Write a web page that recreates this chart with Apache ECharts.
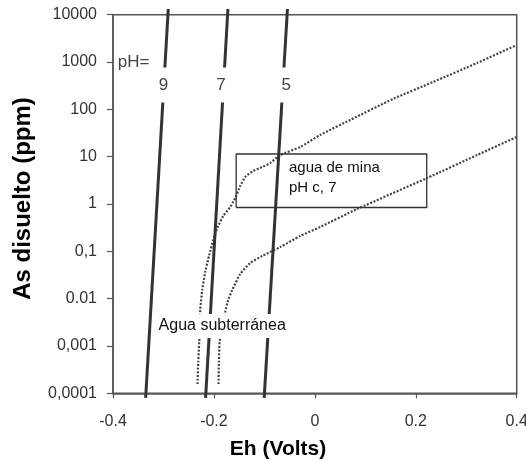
<!DOCTYPE html>
<html><head><meta charset="utf-8">
<script src="https://cdn.jsdelivr.net/npm/echarts/dist/echarts.min.js"></script>
<style>html,body{margin:0;padding:0;background:#fff}#c{width:526px;height:461px}</style>
</head><body><div id="c"></div>
<script>
// ---- data ----
const yTickLabels = ['0,0001', '0,001', '0.01', '0,1', '1', '10', '100', '1000', '10000'];
const xMin = -0.4, xMax = 0.4, xStep = 0.2;

// pH lines (Eh, As ppm) bottom -> top
const ph9 = [[-0.3353, 8e-5], [-0.2905, 13200]];
const ph7 = [[-0.2165, 8e-5], [-0.1723, 13200]];
const ph5 = [[-0.1004, 8e-5], [-0.0543, 13200]];

// dotted curves
const curveMina = [[-0.2325,1.57e-4],[-0.2311,4.58e-4],[-0.2291,1.27e-3],[-0.2271,5.75e-3],[-0.2232,0.0152],
  [-0.2172,0.0366],[-0.2093,0.0836],[-0.2014,0.173],[-0.1935,0.311],[-0.1816,0.557],[-0.1677,0.865],
  [-0.1578,1.34],[-0.1479,2.40],[-0.1380,3.72],[-0.1222,4.98],[-0.1044,6.05],[-0.0885,7.35],[-0.0687,10.8],
  [-0.0291,16.0],[0.0105,28.7],[0.0699,59.6],[0.155,166],[0.2342,378],[0.3213,953],[0.4,2290]];
const curveSubt = [[-0.1909,1.57e-4],[-0.1901,4.58e-4],[-0.1885,1.27e-3],[-0.1776,5.22e-3],[-0.1717,9.37e-3],
  [-0.1638,0.0152],[-0.1479,0.0332],[-0.1281,0.0566],[-0.1044,0.0796],[-0.0687,0.123],[-0.0291,0.211],
  [0.0105,0.327],[0.0838,0.783],[0.2224,3.54],[0.3213,10.8],[0.4,26.1]];

// annotation box (Eh range, ppm range)
const boxX = [-0.1559, 0.2217];
const boxY = [0.843, 11.4];

// text annotations [Eh, ppm, text]
const phNumLabels = [[-0.3002, 327, '9'], [-0.1862, 327, '7'], [-0.0569, 327, '5']];
const phPrefix = [[-0.3915, 1000, 'pH=']];
const minaText = [[-0.0523, 3.54, 'agua de mina\npH c, 7']];
const subtText = [[-0.1836, 2.64e-3, 'Agua subterránea']];

// ---- chart ----
const FONT = '"Liberation Sans", Arial, sans-serif';
const chart = echarts.init(document.getElementById('c'), null, {renderer: 'canvas'});
const axisCol = '#555';
const boxData = [[boxX[0], boxY[0]], [boxX[1], boxY[0]], [boxX[1], boxY[1]], [boxX[0], boxY[1]], [boxX[0], boxY[0]]];

function phSeries(d) {
  return {type: 'line', data: d, showSymbol: false, clip: false, silent: true, z: 3,
    lineStyle: {color: '#333', width: 3}};
}
function dotSeries(d) {
  return {type: 'line', data: d, showSymbol: false, smooth: 0.2, silent: true, z: 2,
    lineStyle: {color: '#444', width: 2.2, type: [2, 1.6]}};
}
function textSeries(arr, label, z) {
  return {type: 'scatter', silent: true, z: z || 10, symbolSize: 1,
    itemStyle: {color: 'rgba(0,0,0,0)', opacity: 1},
    data: arr.map(a => ({value: [a[0], a[1]], name: a[2]})),
    label: Object.assign({show: true, formatter: '{b}', fontFamily: FONT, opacity: 1}, label)};
}

chart.setOption({
  animation: false,
  backgroundColor: '#fff',
  grid: {left: 113, right: 9.3, top: 14.7, bottom: 67.7, containLabel: false, outerBoundsMode: 'none',
    show: true, borderColor: axisCol, borderWidth: 1.5, backgroundColor: 'transparent'},
  xAxis: {type: 'value', min: xMin, max: xMax, interval: xStep,
    axisLine: {show: true, onZero: false, lineStyle: {color: axisCol, width: 1.5}},
    axisTick: {show: true, inside: false, length: 5, lineStyle: {color: axisCol, width: 1.2}},
    splitLine: {show: false},
    axisLabel: {margin: 20, fontSize: 16, color: '#333', fontFamily: FONT}},
  yAxis: {type: 'log', logBase: 10, min: 1e-4, max: 1e4, splitNumber: 8,
    axisLine: {show: true, onZero: false, lineStyle: {color: axisCol, width: 1.5}},
    axisTick: {show: true, inside: false, length: 6, lineStyle: {color: axisCol, width: 1.2}},
    minorTick: {show: false},
    splitLine: {show: false},
    axisLabel: {margin: 16, fontSize: 16, color: '#333', fontFamily: FONT, interval: 0,
      showMinLabel: true, showMaxLabel: true,
      formatter: v => yTickLabels[Math.round(Math.log10(v)) + 4]}},
  graphic: [
    {type: 'text', x: 23, y: 198.5, rotation: Math.PI / 2, silent: true,
      style: {text: 'As disuelto (ppm)', fill: '#000', font: 'bold 24px ' + FONT,
        align: 'center', verticalAlign: 'middle', textAlign: 'center', textVerticalAlign: 'middle'}},
    {type: 'text', x: 278, y: 449, silent: true,
      style: {text: 'Eh (Volts)', fill: '#000', font: 'bold 21px ' + FONT,
        align: 'center', verticalAlign: 'middle', textAlign: 'center', textVerticalAlign: 'middle'}}
  ],
  series: [
    dotSeries(curveMina),
    dotSeries(curveSubt),
    phSeries(ph9), phSeries(ph7), phSeries(ph5),
    {type: 'line', data: boxData, showSymbol: false, silent: true, z: 4,
      lineStyle: {color: '#333', width: 1.3}},
    textSeries(phNumLabels, {position: 'inside', fontSize: 17, color: '#444',
      backgroundColor: '#fff', padding: [9, 3]}, 10),
    textSeries(phPrefix, {position: 'right', distance: 0, fontSize: 17, color: '#444'}, 10),
    textSeries(minaText, {position: 'right', distance: 0, fontSize: 15, color: '#111', lineHeight: 20}, 10),
    textSeries(subtText, {position: 'inside', fontSize: 16, color: '#111',
      backgroundColor: '#fff', padding: [4, 3]}, 10)
  ]
});
</script>
</body></html>
